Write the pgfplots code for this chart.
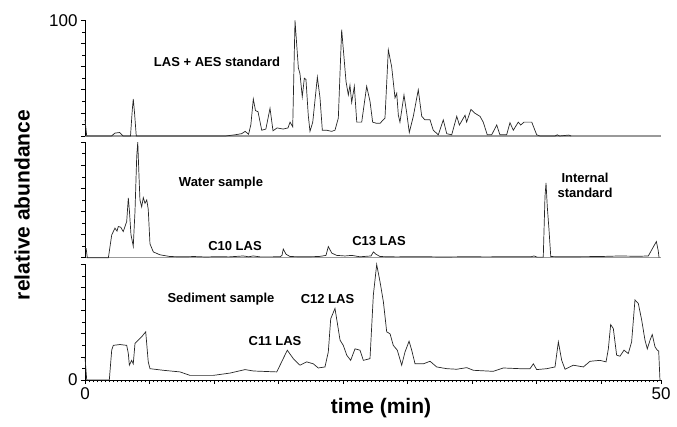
\documentclass[border=0pt]{standalone}
\usepackage{fontspec}
\setmainfont{Liberation Sans}
\usepackage{pgfplots}
\usepackage{pgfplotstable}
\pgfplotsset{compat=1.18}

\pgfplotstableread{
t a
0 14
0.15 0
2.3 0
2.6 2.5
3.0 3
3.3 0
3.95 0
4.1 22
4.19 32
4.3 20
4.45 0
12.2 0
13.0 1
13.6 2
13.9 4
14.2 1.5
14.4 10
14.61 32
14.8 22
15.02 21
15.34 5
15.7 6
16.06 24
16.32 4.5
16.67 7
17.2 6
17.62 7
17.8 12
18.03 8
18.23 100
18.52 59
18.66 54
18.86 34
19.04 50
19.18 49
19.38 18
19.53 4
19.77 12
20.17 51
20.4 33
20.6 5
20.98 5
21.4 4
21.7 5
21.99 15.5
22.28 92
22.66 47
22.86 35.5
23.0 44
23.15 29
23.38 43
23.59 12
24.02 12
24.45 43
24.74 30
24.97 12
25.3 11
25.61 11
26.04 15.5
26.33 74.6
26.62 60
26.91 33
27.06 37
27.2 18
27.34 12
27.69 35.5
27.93 19.7
28.15 3
28.5 17
28.93 40
29.23 17
29.51 14
29.95 14
30.23 5
30.67 1
31.1 14
31.4 2
31.83 1
32.27 17
32.5 9.5
32.99 18
33.13 12
33.5 23
33.85 19.7
34.29 17
34.57 12
34.92 1
35.3 1
35.74 9.5
36.02 1
36.6 1
36.89 11.5
37.18 5
37.61 12
37.82 9.5
38.11 12
38.78 12
39.21 1
39.5 0
40.8 0
41.0 1
41.2 0
42.0 0.8
42.2 0
}\standard

\pgfplotstableread{
t a
0 8
0.1 8
0.2 0
2.03 0
2.32 19.7
2.6 25.6
2.78 23
2.89 27
3.1 26.4
3.32 22.6
3.62 31.3
3.76 51.7
3.86 40
3.99 20
4.19 10
4.34 40
4.49 87.8
4.58 100
4.69 70
4.77 50
4.92 44
5.06 52
5.21 47
5.36 50
5.49 42
5.64 12
5.93 5
6.51 2.5
7.38 1
8.5 0.8
9.5 1
10.5 0.6
11.5 0.9
12.5 0.7
13.74 1.5
14.2 0.8
14.61 1.5
15.2 0.7
16.06 0.7
16.93 0.8
17.1 2
17.21 7.5
17.45 3
17.8 1
19 0.8
20.3 1
20.92 2
21.12 9.6
21.42 4
21.85 2
22.57 1.5
23.15 2
23.87 0.8
24.83 1.5
25.03 5
25.26 3
25.61 1
27 0.7
29 0.9
31 0.6
33 0.8
35 0.7
37 0.9
38.72 0.8
38.98 1.5
39.24 0.5
39.78 0.5
39.93 53
40.02 64.7
40.13 44
40.28 24
40.43 1
41.24 0.8
43 0.9
44.7 1
46.4 1.5
48 1.2
48.9 1.5
49.26 8
49.6 14
49.76 6
49.83 0
}\water

\pgfplotstableread{
t a
0 20
0.15 0
2.11 0
2.32 26
2.46 30
3.04 30.7
3.62 30
3.76 23
3.85 12.8
4.05 17
4.19 14
4.34 31.6
4.63 34.5
4.92 37.4
5.27 41.7
5.49 15.7
5.64 9.8
6.8 8.4
8.25 7
9.11 4
11.14 4
12.59 6
13.89 9
14.61 7.8
16.64 7
16.93 12.8
17.56 25.8
18.08 18.5
18.66 12.8
19.24 15.7
19.82 14
20.25 10.4
20.83 11.3
21.12 24.3
21.33 53
21.7 62
22.14 34.5
22.42 30
22.72 21.5
23.06 17
23.44 27
23.87 25.8
24.16 17
24.74 18.5
25.03 73.6
25.32 100
25.61 85
25.9 67.8
26.19 41.7
26.48 40
26.76 30
27.11 25.8
27.49 12.8
27.78 24.3
28.13 33.6
28.36 25.8
28.65 14
29.37 14
29.95 16.2
30.53 11.3
31.4 9.8
32.27 9.3
33.13 10.7
33.71 8.4
35.44 7.5
36.31 10.4
37.76 9.8
38.63 9.8
38.92 14
39.21 9
40.08 9.8
40.8 11.3
41.09 33
41.38 17
41.67 9.3
42.39 12.8
43.26 11.3
43.84 16.2
44.7 17
45.23 15.7
45.43 27
45.63 48
45.86 44.6
46.15 21.5
46.44 20.6
46.79 25.8
47.16 22.9
47.45 33
47.74 69.3
48.03 66.3
48.32 52
48.61 34.5
48.81 27
49.05 34.5
49.24 39.4
49.48 28.7
49.68 25.8
49.8 25
49.91 0
}\sediment

\pgfplotsset{
  panel/.style={
    scale only axis, width=576pt, height=115.5pt,
    xmin=0, xmax=50, ymin=0, ymax=100,
    axis lines*=left, clip=false,
    ytick={0,20,...,100}, minor y tick num=1,
    tick align=outside, major tick length=4pt, minor tick length=2.5pt,
    tick style={black, line width=0.6pt},
    y axis line style={black, line width=0.8pt},
    ticklabel style={font=\fontsize{17}{17}\selectfont},
    /pgf/number format/assume math mode=true,
    anchor=south west,
  },
  trace/.style={black!85, line width=0.7pt, no marks, sharp plot},
}

\begin{document}
\begin{tikzpicture}[x=1pt,y=1pt]
\useasboundingbox (-85pt,-47pt) rectangle (592pt,380pt);

% top panel
\begin{axis}[panel, at={(0pt,244pt)}, xtick=\empty,
  yticklabels={,,,,,100},
  x axis line style={black!40, line width=1.5pt}]
\addplot[trace] table[x=t,y=a] {\standard};
\end{axis}

% middle panel
\begin{axis}[panel, at={(0pt,122.3pt)}, xtick=\empty,
  yticklabels={,,,,,},
  x axis line style={black!40, line width=1.5pt}]
\addplot[trace] table[x=t,y=a] {\water};
\end{axis}

% bottom panel
\begin{axis}[panel, at={(0pt,0pt)},
  xtick={0,50}, xticklabels={0,50},
  extra x ticks={5.6,11.2,16.8,22.4,28,33.6,39.2,44.8},
  extra x tick labels={},
  minor xtick={0,0.35,...,50},
  yticklabels={0,,,,,},
  x axis line style={black, line width=0.6pt}]
\addplot[trace] table[x=t,y=a] {\sediment};
\end{axis}

\begin{scope}[every node/.style={font=\bfseries\fontsize{13}{15}\selectfont, inner sep=0pt}]
\node at (132pt,318pt) {LAS + AES standard};
\node at (136pt,197pt) {Water sample};
\node at (150pt,134pt) {C10 LAS};
\node at (294pt,139.3pt) {C13 LAS};
\node[align=center] at (500pt,194.5pt) {Internal\\standard};
\node at (136pt,81pt) {Sediment sample};
\node at (242.5pt,81pt) {C12 LAS};
\node at (190pt,39pt) {C11 LAS};
\end{scope}

\node[rotate=90, font=\bfseries\fontsize{21}{21}\selectfont] at (-63pt,175pt) {relative abundance};
\node[font=\bfseries\fontsize{21}{21}\selectfont] at (296pt,-28pt) {time (min)};
\end{tikzpicture}
\end{document}
